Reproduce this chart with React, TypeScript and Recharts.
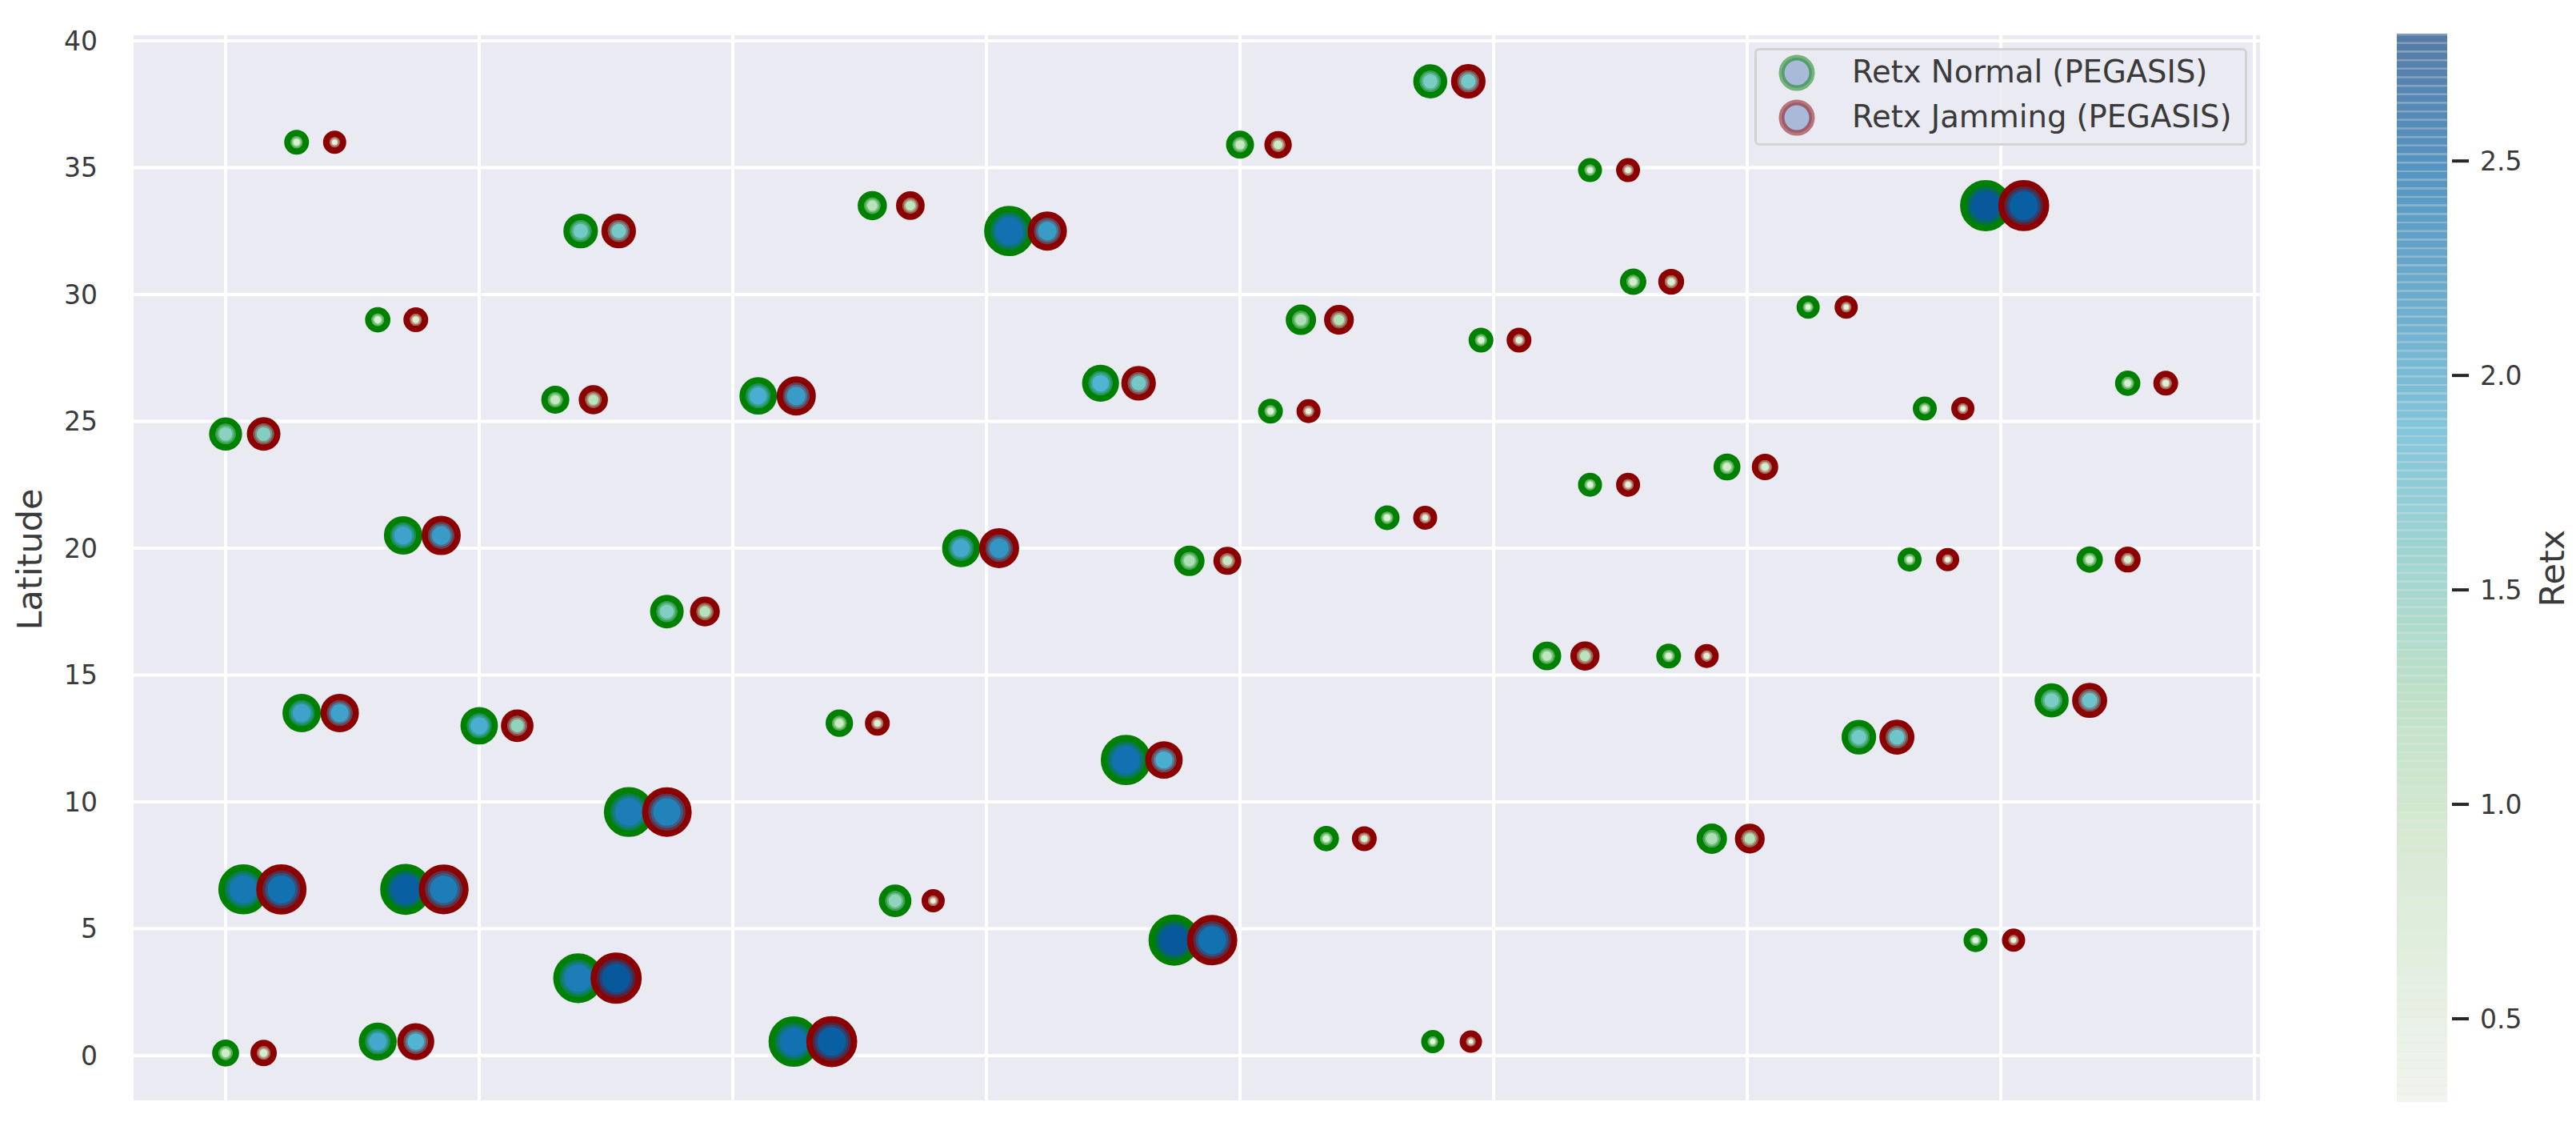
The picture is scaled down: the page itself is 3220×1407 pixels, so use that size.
import React from "react";
import {
  CartesianGrid,
  Legend,
  ReferenceArea,
  Scatter,
  ScatterChart,
  XAxis,
  YAxis,
} from "recharts";

// Node positions, one entry per node.
const lonNormal = [
  1.4, 3.0, 7.0, 6.5, 0.0, 3.5, 10.5, 12.75, 15.45, 17.25,
  20.0, 23.75, 26.9, 21.2, 24.75, 20.6, 27.75, 31.2, 34.7, 33.5,
  37.5, 26.9, 29.6, 22.9, 14.5, 19.0, 33.2, 36.75, 8.7, 26.05,
  28.45, 1.5, 5.0, 12.1, 17.75, 32.2, 36.0, 7.95, 21.7, 29.3,
  0.35, 3.55, 13.2, 6.95, 18.7, 34.5, 0.0, 3.0, 11.2, 23.8,
];
const lonJamming = [
  2.15, 3.75, 7.75, 7.25, 0.75, 4.25, 11.25, 13.5, 16.2, 18.0,
  20.75, 24.5, 27.65, 21.95, 25.5, 21.35, 28.5, 31.95, 35.45, 34.25,
  38.25, 27.65, 30.35, 23.65, 15.25, 19.75, 33.95, 37.5, 9.45, 26.8,
  29.2, 2.25, 5.75, 12.85, 18.5, 32.95, 36.75, 8.7, 22.45, 30.05,
  1.1, 4.3, 13.95, 7.7, 19.45, 35.25, 0.75, 3.75, 11.95, 24.55,
];
const latitudes = [
  36.0, 29.0, 32.5, 25.85, 24.5, 20.5, 26.0, 33.5, 32.5, 26.5,
  35.9, 38.4, 34.9, 29.0, 28.2, 25.4, 30.5, 29.5, 33.5, 25.5,
  26.5, 22.5, 23.2, 21.2, 20.0, 19.5, 19.55, 19.55, 17.5, 15.75,
  15.75, 13.5, 13.0, 13.1, 11.65, 12.55, 14.0, 9.6, 8.55, 8.55,
  6.55, 6.55, 6.1, 3.05, 4.55, 4.55, 0.1, 0.55, 0.55, 0.55,
];
const retxNormal = [
  0.7, 0.75, 1.6, 1.0, 1.45, 2.0, 1.9, 1.1, 2.4, 1.85,
  1.0, 1.55, 0.65, 1.2, 0.7, 0.7, 0.85, 0.6, 2.6, 0.65,
  0.75, 0.65, 0.9, 0.7, 1.95, 1.2, 0.65, 0.85, 1.5, 1.05,
  0.7, 2.0, 1.9, 0.95, 2.4, 1.6, 1.55, 2.3, 0.75, 1.2,
  2.35, 2.55, 1.4, 2.3, 2.6, 0.65, 0.9, 1.95, 2.4, 0.6,
];
const retxJamming = [
  0.6, 0.7, 1.6, 1.1, 1.5, 2.05, 2.05, 1.05, 2.05, 1.6,
  0.95, 1.6, 0.65, 1.15, 0.7, 0.65, 0.8, 0.6, 2.55, 0.6,
  0.7, 0.65, 0.85, 0.65, 2.1, 1.0, 0.6, 0.8, 1.15, 1.1,
  0.65, 2.0, 1.4, 0.7, 1.9, 1.65, 1.65, 2.25, 0.7, 1.15,
  2.4, 2.3, 0.6, 2.6, 2.4, 0.6, 0.85, 1.85, 2.55, 0.55,
];

const latTicks = [0, 5, 10, 15, 20, 25, 30, 35, 40];
const lonTicks = [0, 5, 10, 15, 20, 25, 30, 35, 40];
const colorTicks = [0.5, 1.0, 1.5, 2.0, 2.5];

const RETX_MIN = 0.306;
const RETX_MAX = 2.797;
const BAND_COUNT = 125;

const FONT = "'DejaVu Sans', sans-serif";
const TEXT = "#3a3a3a";

// GnBu colormap
const gnbuStops = ["#f7fcf0", "#e0f3db", "#ccebc5", "#a8ddb5", "#7bccc4", "#4eb3d3", "#2b8cbe", "#0868ac", "#084081"];

function colorFor(retx: number) {
  const t = Math.min(1, Math.max(0, (retx - RETX_MIN) / (RETX_MAX - RETX_MIN))) * (gnbuStops.length - 1);
  const i = Math.min(gnbuStops.length - 2, Math.floor(t));
  const f = t - i;
  const channel = (hex: string, at: number) => parseInt(hex.slice(at, at + 2), 16);
  const mix = (at: number) => Math.round(channel(gnbuStops[i], at) * (1 - f) + channel(gnbuStops[i + 1], at) * f);
  return `rgb(${mix(1)},${mix(3)},${mix(5)})`;
}

// Outer marker diameter grows with retx, and jumps for the heaviest nodes.
const sizeKnots: [number, number][] = [
  [0.5, 27], [0.7, 31], [1.0, 35], [1.2, 38], [1.5, 42], [2.0, 48], [2.1, 50], [2.25, 62], [2.6, 64],
];

function diameterFor(retx: number) {
  for (let i = 0; i < sizeKnots.length - 1; i++) {
    const [a, da] = sizeKnots[i];
    const [b, db] = sizeKnots[i + 1];
    if (retx <= b) return da + ((Math.max(retx, a) - a) / (b - a)) * (db - da);
  }
  return sizeKnots[sizeKnots.length - 1][1];
}

const normalPoints = latitudes.map((lat, i) => ({ lon: lonNormal[i], lat, retx: retxNormal[i] }));
const jammingPoints = latitudes.map((lat, i) => ({ lon: lonJamming[i], lat, retx: retxJamming[i] }));
const colorEnds = [{ x: 0, y: RETX_MIN }, { x: 1, y: RETX_MAX }];

// Solid edge plus two fainter rings, the picture's edges fade into the fill.
const makeMarker = (edge: string) => (props: any) => {
  const { cx, cy, payload } = props;
  const d = diameterFor(payload.retx);
  const soft = (1 + d * 0.08) / 2;
  return (
    <g>
      <circle cx={cx} cy={cy} r={d / 2 - 4} fill={colorFor(payload.retx)} stroke={edge} strokeWidth={8} />
      <circle cx={cx} cy={cy} r={d / 2 - 8 - soft / 2} fill="none" stroke={edge} strokeWidth={soft} strokeOpacity={0.6} />
      <circle cx={cx} cy={cy} r={d / 2 - 8 - (soft * 3) / 2} fill="none" stroke={edge} strokeWidth={soft} strokeOpacity={0.3} />
    </g>
  );
};

function LegendBox({ payload }: any) {
  return (
    <div
      style={{
        boxSizing: "border-box",
        width: 616,
        height: 122,
        background: "rgba(234,234,242,0.8)",
        border: "3px solid #d2d2d4",
        borderRadius: 6,
        position: "relative",
      }}
    >
      {(payload || []).map((entry: any, i: number) => (
        <div key={entry.value} style={{ position: "absolute", left: 0, top: i * 56, height: 56, display: "flex", alignItems: "center" }}>
          <svg width={119} height={56} style={{ flex: "none" }}>
            <circle cx={50} cy={28} r={19} fill="#a9b9d8" stroke={entry.color} strokeOpacity={0.5} strokeWidth={7} />
          </svg>
          <span style={{ fontFamily: FONT, fontSize: 38.5, color: TEXT, whiteSpace: "nowrap", marginTop: -4 }}>{entry.value}</span>
        </div>
      ))}
    </div>
  );
}

function ColorTick({ x, y, payload }: any) {
  return (
    <g>
      <line x1={x - 2} x2={x + 19} y1={y} y2={y} stroke="#262626" strokeWidth={4} />
      <text x={x + 33} y={y} dy="0.36em" fontFamily={FONT} fontSize={33} fill={TEXT}>
        {payload.value.toFixed(1)}
      </text>
    </g>
  );
}

function ColorBar() {
  const step = (RETX_MAX - RETX_MIN) / BAND_COUNT;
  const bands = Array.from({ length: BAND_COUNT }, (_, i) => RETX_MIN + i * step);
  return (
    <ScatterChart width={224} height={1407} margin={{ top: 42, right: 61, bottom: 30, left: 0 }}>
      <XAxis type="number" dataKey="x" domain={[0, 1]} hide />
      <YAxis
        type="number"
        dataKey="y"
        orientation="right"
        width={100}
        domain={[RETX_MIN, RETX_MAX]}
        ticks={colorTicks}
        interval={0}
        axisLine={false}
        tickLine={false}
        tick={(p: any) => <ColorTick {...p} />}
        label={{ value: "Retx", angle: -90, position: "right", dx: 26, dy: 49, fontFamily: FONT, fontSize: 43, fill: TEXT }}
      />
      <ReferenceArea x1={0} x2={1} y1={RETX_MIN} y2={RETX_MAX} fill="#e8e8e8" fillOpacity={1} stroke="none" ifOverflow="visible" />
      {bands.map((lo) => (
        <ReferenceArea key={`b${lo}`} x1={0} x2={1} y1={lo} y2={lo + step * 0.8} fill={colorFor(lo + step / 2)} fillOpacity={0.65} stroke="none" ifOverflow="visible" />
      ))}
      {bands.map((lo) => (
        <ReferenceArea key={`s${lo}`} x1={0} x2={1} y1={lo + step * 0.8} y2={lo + step} fill={colorFor(lo + step / 2)} fillOpacity={0.45} stroke="none" ifOverflow="visible" />
      ))}
      <Scatter data={colorEnds} fill="none" shape={() => <g />} isAnimationActive={false} />
    </ScatterChart>
  );
}

export default function App() {
  return (
    <div style={{ position: "absolute", left: 0, top: 0, width: 3220, height: 1407, background: "#fff", overflow: "hidden" }}>
      <ScatterChart width={2860} height={1407} margin={{ top: 42, right: 33, bottom: 29, left: 65 }}>
        <CartesianGrid fill="#eaeaf2" stroke="#fff" strokeWidth={4} />
        <XAxis
          type="number"
          dataKey="lon"
          domain={[-1.845, 40.14]}
          ticks={lonTicks}
          interval={0}
          height={1}
          tick={() => <g />}
          tickLine={false}
          axisLine={false}
          allowDataOverflow
        />
        <YAxis
          type="number"
          dataKey="lat"
          width={100}
          domain={[-1.83, 40.28]}
          ticks={latTicks}
          tickLine={false}
          axisLine={false}
          tickMargin={37}
          tick={{ fontFamily: FONT, fontSize: 33, fill: TEXT }}
          allowDataOverflow
          label={{ value: "Latitude", angle: -90, position: "insideLeft", dx: -33, dy: 78, fontFamily: FONT, fontSize: 43, fill: TEXT }}
        />
        <Legend
          layout="horizontal"
          verticalAlign="middle"
          itemSorter={null}
          content={<LegendBox />}
          wrapperStyle={{ position: "absolute", left: 2193, top: 60, width: 616, height: 122 }}
        />
        <Scatter name="Retx Normal (PEGASIS)" data={normalPoints} fill="#008000" stroke="#008000" shape={makeMarker("#008000")} isAnimationActive={false} />
        <Scatter name="Retx Jamming (PEGASIS)" data={jammingPoints} fill="#8b0000" stroke="#8b0000" shape={makeMarker("#8b0000")} isAnimationActive={false} />
      </ScatterChart>
      <div style={{ position: "absolute", left: 2996, top: 0 }}>
        <ColorBar />
      </div>
    </div>
  );
}
